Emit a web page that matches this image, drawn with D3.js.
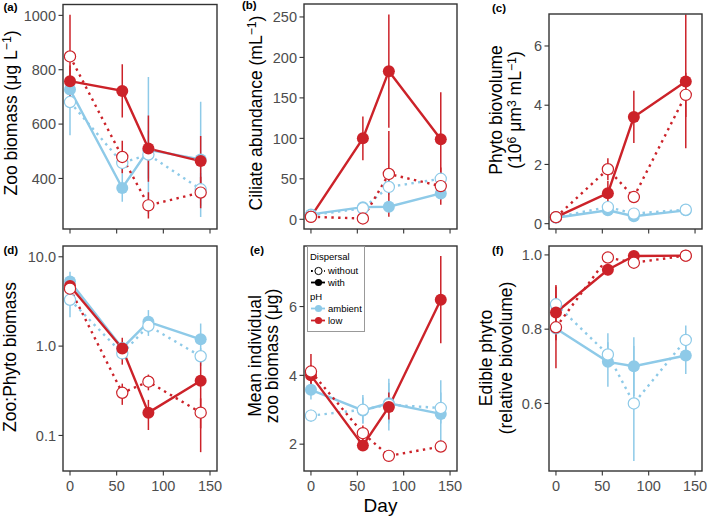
<!DOCTYPE html>
<html>
<head>
<meta charset="utf-8">
<script src="https://cdn.jsdelivr.net/npm/d3@7"></script>
<style>
body { margin: 0; background: #fff; }
text { font-family: "Liberation Sans", Arial, sans-serif; }
</style>
</head>
<body>
<svg id="chart"></svg>
<script>
// sampling days and x ticks
const days = [0, 56, 84, 140];
const dayTicks = [0, 50, 100, 150];

// every point is [mean, lower, upper]
// (a) zoo biomass
const zooAmbWith    = [[727, 687, 767], [365, 314, 416], [505, 270, 773], [470, 258, 682]];
const zooAmbWithout = [[681, 559, 803], [457, 417, 497], [488, 400, 576], [360, 300, 420]];
const zooLowWith    = [[758, 700, 816], [722, 624, 820], [510, 388, 632], [464, 372, 556]];
const zooLowWithout = [[849, 696, 1002], [479, 419, 539], [301, 253, 349], [348, 290, 406]];

// (b) ciliate abundance
const cilAmbWith    = [[6, 4, 8], [15, 10, 20], [15.5, 10, 21], [32, 24, 40]];
const cilAmbWithout = [[5, 3, 7], [13.6, 9, 18], [40, 30, 50], [50, 42, 58]];
const cilLowWith    = [[3.2, 1, 5], [100, 73, 127], [183, 113, 253], [99, 41, 157]];
const cilLowWithout = [[3, 1, 5], [1, 0, 2], [56, 3, 109], [41, 18, 64]];

// (c) phyto biovolume
const phyAmbWith    = [[0.2, 0.15, 0.25], [0.45, 0.35, 0.55], [0.25, 0.18, 0.32], [0.45, 0.36, 0.54]];
const phyAmbWithout = [[0.22, 0.15, 0.29], [0.56, 0.45, 0.67], [0.34, 0.25, 0.43], [0.47, 0.38, 0.56]];
const phyLowWith    = [[0.22, 0.15, 0.29], [1.03, 0.62, 1.44], [3.6, 2.72, 4.49], [4.8, 2.55, 7.06]];
const phyLowWithout = [[0.22, 0.15, 0.29], [1.84, 1.47, 2.21], [0.9, 0.75, 1.05], [4.35, 3.6, 5.1]];

// (d) zoo:phyto biomass (log)
const zpAmbWith    = [[5.3, 4.0, 6.8], [0.95, 0.8, 1.1], [1.87, 1.4, 2.53], [1.19, 0.8, 1.79]];
const zpAmbWithout = [[3.3, 2.1, 4.5], [0.83, 0.7, 0.97], [1.69, 1.3, 2.1], [0.77, 0.6, 0.95]];
const zpLowWith    = [[4.7, 3.9, 5.5], [0.94, 0.62, 1.24], [0.18, 0.115, 0.25], [0.41, 0.065, 0.7]];
const zpLowWithout = [[4.4, 3.6, 5.2], [0.3, 0.22, 0.38], [0.4, 0.32, 0.48], [0.18, 0.12, 0.26]];

// (e) mean individual zoo biomass
const mibAmbWith    = [[3.58, 3.3, 3.86], [2.98, 2.6, 3.36], [3.19, 2.6, 3.78], [2.88, 1.9, 3.86]];
const mibAmbWithout = [[2.83, 2.65, 3.0], [3.0, 2.6, 3.43], [3.15, 2.4, 3.9], [3.05, 2.6, 3.5]];
const mibLowWith    = [[4.0, 3.7, 4.3], [1.96, 1.85, 2.07], [3.08, 2.72, 3.5], [6.2, 4.93, 7.47]];
const mibLowWithout = [[4.11, 3.6, 4.62], [2.32, 2.1, 2.54], [1.66, 1.56, 1.76], [1.93, 1.83, 2.03]];

// (f) edible phyto
const edAmbWith    = [[0.802, 0.78, 0.825], [0.712, 0.645, 0.789], [0.7, 0.62, 0.778], [0.729, 0.679, 0.779]];
const edAmbWithout = [[0.867, 0.84, 0.89], [0.732, 0.7, 0.765], [0.6, 0.445, 0.755], [0.771, 0.73, 0.81]];
const edLowWith    = [[0.845, 0.77, 0.919], [0.96, 0.945, 0.975], [0.997, 0.99, 1.0], [0.998, 0.995, 1.0]];
const edLowWithout = [[0.805, 0.695, 0.915], [0.993, 0.985, 1.0], [0.979, 0.97, 0.988], [0.998, 0.995, 1.0]];

const width = 709, height = 520;
const colAmb = "#8ecae8", colLow = "#cc2229";
const tickCol = "#4d4d4d", boxCol = "#333";

// series drawing order: ambient first, "with" under "without"
const seriesMeta = [
  {color: colAmb, open: false},
  {color: colAmb, open: true},
  {color: colLow, open: false},
  {color: colLow, open: true}
];

const svg = d3.select("#chart").attr("width", width).attr("height", height);
svg.append("rect").attr("width", width).attr("height", height).attr("fill", "#fff");

const sup = s => [s, true];

const panels = [
  {label: "(a)", lx: 3.5, ly: 11, left: 63, right: 217, top: 4.5, bottom: 229,
   domain: [214, 1040], ticks: [400, 600, 800, 1000], fmt: d3.format("d"),
   series: [zooAmbWith, zooAmbWithout, zooLowWith, zooLowWithout],
   title: [[["Zoo biomass (μg L"], sup("−1"), [")"]]], tx: [16.5], ty: 113, xlab: false},
  {label: "(b)", lx: 242, ly: 9, left: 304, right: 457, top: 4, bottom: 229,
   domain: [-12, 266], ticks: [0, 50, 100, 150, 200, 250], fmt: d3.format("d"),
   series: [cilAmbWith, cilAmbWithout, cilLowWith, cilLowWithout],
   title: [[["Ciliate abundance (mL"], sup("−1"), [")"]]], tx: [261.5], ty: 113, xlab: false},
  {label: "(c)", lx: 492, ly: 11.5, left: 549, right: 702, top: 14, bottom: 229,
   domain: [-0.18, 7.08], ticks: [0, 2, 4, 6], fmt: d3.format("d"),
   series: [phyAmbWith, phyAmbWithout, phyLowWith, phyLowWithout],
   title: [[["Phyto biovolume"]], [["(10"], sup("6"), [" μm"], sup("3"), [" mL"], sup("−1"), [")"]]],
   tx: [502, 521], ty: 110, xlab: false},
  {label: "(d)", lx: 3.5, ly: 254, left: 63, right: 217, top: 246, bottom: 471, log: true,
   domain: [0.04, 13.2], ticks: [0.1, 1, 10], fmt: d3.format(".1f"),
   series: [zpAmbWith, zpAmbWithout, zpLowWith, zpLowWithout],
   title: [[["Zoo:Phyto biomass"]]], tx: [16], ty: 357, xlab: true},
  {label: "(e)", lx: 250, ly: 254, left: 304, right: 457, top: 246, bottom: 471,
   domain: [1.22, 7.76], ticks: [2, 4, 6], fmt: d3.format("d"),
   series: [mibAmbWith, mibAmbWithout, mibLowWith, mibLowWithout],
   title: [[["Mean individual"]], [["zoo biomass (μg)"]]], tx: [261, 278], ty: 356, xlab: true},
  {label: "(f)", lx: 492, ly: 254, left: 549, right: 702, top: 246, bottom: 471,
   domain: [0.418, 1.024], ticks: [0.6, 0.8, 1.0], fmt: d3.format(".1f"),
   series: [edAmbWith, edAmbWithout, edLowWith, edLowWithout],
   title: [[["Edible phyto"]], [["(relative biovolume)"]]], tx: [492, 512], ty: 358, xlab: true}
];

function addTitleLine(g, x, y, parts) {
  const t = g.append("text")
    .attr("transform", "translate(" + x + "," + y + ") rotate(-90)")
    .attr("text-anchor", "middle")
    .attr("font-size", 17.5)
    .attr("fill", "#000");
  let raised = false;
  parts.forEach(p => {
    const isSup = p[1] === true;
    const ts = t.append("tspan").text(p[0]);
    if (isSup && !raised) { ts.attr("dy", "-0.45em").attr("font-size", "0.7em"); raised = true; }
    else if (!isSup && raised) { ts.attr("dy", "0.315em"); raised = false; }
    else if (isSup) ts.attr("font-size", "0.7em");
  });
}

panels.forEach(p => {
  const g = svg.append("g");
  const x = d3.scaleLinear().domain([-7.5, 157.5]).range([p.left, p.right]);
  const y = (p.log ? d3.scaleLog() : d3.scaleLinear()).domain(p.domain).range([p.bottom, p.top]);

  // clip to panel
  const cid = "clip" + p.label.replace(/[()]/g, "");
  svg.append("clipPath").attr("id", cid).append("rect")
    .attr("x", p.left).attr("y", p.top).attr("width", p.right - p.left).attr("height", p.bottom - p.top);
  const plot = g.append("g").attr("clip-path", "url(#" + cid + ")");

  const line = d3.line().x((d, i) => x(days[i])).y(d => y(d[0]));

  p.series.forEach((s, k) => {
    const m = seriesMeta[k];
    plot.append("path").datum(s)
      .attr("d", line)
      .attr("fill", "none")
      .attr("stroke", m.color)
      .attr("stroke-width", 2.4)
      .attr("stroke-dasharray", m.open ? "2.4,4.4" : null);
  });
  p.series.forEach((s, k) => {
    const m = seriesMeta[k];
    plot.selectAll(null).data(s).enter().append("line")
      .attr("x1", (d, i) => x(days[i])).attr("x2", (d, i) => x(days[i]))
      .attr("y1", d => y(d[1])).attr("y2", d => y(d[2]))
      .attr("stroke", m.color).attr("stroke-width", 1.5);
  });
  p.series.forEach((s, k) => {
    const m = seriesMeta[k];
    plot.selectAll(null).data(s).enter().append("circle")
      .attr("cx", (d, i) => x(days[i])).attr("cy", d => y(d[0]))
      .attr("r", m.open ? 5.6 : 6)
      .attr("fill", m.open ? "#fff" : m.color)
      .attr("stroke", m.open ? m.color : "none")
      .attr("stroke-width", 1.2);
  });

  // panel border
  g.append("rect")
    .attr("x", p.left).attr("y", p.top)
    .attr("width", p.right - p.left).attr("height", p.bottom - p.top)
    .attr("fill", "none").attr("stroke", boxCol).attr("stroke-width", 1.4);

  // y axis
  p.ticks.forEach(t => {
    g.append("line").attr("x1", p.left - 4.5).attr("x2", p.left)
      .attr("y1", y(t)).attr("y2", y(t)).attr("stroke", boxCol).attr("stroke-width", 1.1);
    g.append("text").attr("x", p.left - 7).attr("y", y(t)).attr("dy", "0.36em")
      .attr("text-anchor", "end").attr("font-size", 14.5).attr("fill", tickCol)
      .text(p.fmt(t));
  });

  // x axis
  dayTicks.forEach(t => {
    g.append("line").attr("x1", x(t)).attr("x2", x(t))
      .attr("y1", p.bottom).attr("y2", p.bottom + 4.5).attr("stroke", boxCol).attr("stroke-width", 1.1);
    if (p.xlab) {
      g.append("text").attr("x", x(t)).attr("y", p.bottom + 19.5)
        .attr("text-anchor", "middle").attr("font-size", 14.5).attr("fill", tickCol)
        .text(t);
    }
  });

  p.title.forEach((parts, i) => addTitleLine(g, p.tx[i], p.ty, parts));

  g.append("text").attr("x", p.lx).attr("y", p.ly)
    .attr("font-size", 11.5).attr("font-weight", "bold").text(p.label);
});

// x title
svg.append("text").attr("x", 380.5).attr("y", 511.5)
  .attr("text-anchor", "middle").attr("font-size", 19).text("Day");

// legend in panel (e)
const lg = svg.append("g");
lg.append("rect").attr("x", 307.5).attr("y", 246.5).attr("width", 57).attr("height", 85)
  .attr("fill", "#fff").attr("stroke", "#999").attr("stroke-width", 1);
const legendRows = [
  {type: "title", text: "Dispersal", y: 257},
  {type: "key", text: "without", y: 271, color: "#000", open: true},
  {type: "key", text: "with", y: 282.5, color: "#000", open: false},
  {type: "title", text: "pH", y: 296.5},
  {type: "key", text: "ambient", y: 308.5, color: colAmb, open: false},
  {type: "key", text: "low", y: 320.5, color: colLow, open: false}
];
legendRows.forEach(r => {
  if (r.type === "title") {
    lg.append("text").attr("x", 310).attr("y", r.y).attr("dy", "0.36em")
      .attr("font-size", 9.5).text(r.text);
    return;
  }
  lg.append("line").attr("x1", 311).attr("x2", 325).attr("y1", r.y).attr("y2", r.y)
    .attr("stroke", r.color).attr("stroke-width", 1.8)
    .attr("stroke-dasharray", r.open ? "1.8,2.6" : null);
  lg.append("circle").attr("cx", 318.5).attr("cy", r.y).attr("r", 3.6)
    .attr("fill", r.open ? "#fff" : r.color)
    .attr("stroke", r.open ? r.color : "none").attr("stroke-width", 1);
  lg.append("text").attr("x", 328).attr("y", r.y).attr("dy", "0.36em")
    .attr("font-size", 9.5).text(r.text);
});
</script>
</body>
</html>
